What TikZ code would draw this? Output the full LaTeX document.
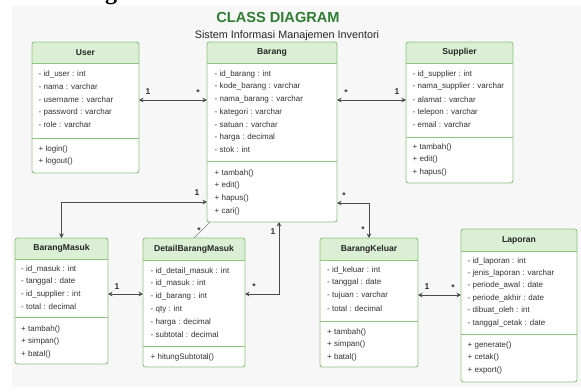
\documentclass[tikz,border=0pt]{standalone}
\usepackage{fontspec}
\setmainfont{Liberation Sans}
\newfontfamily\serifhead{Liberation Serif}
\usetikzlibrary{arrows.meta,calc}

\definecolor{frame}{HTML}{8CC47E}
\definecolor{hdrfill}{HTML}{DAEFD4}
\definecolor{titlegreen}{HTML}{2E7D32}
\definecolor{ink}{HTML}{333333}
\definecolor{wire}{HTML}{4A4A4A}
\definecolor{paper}{HTML}{F7F7F7}

\tikzset{
  classframe/.style={draw=frame, line width=0.9pt, rounded corners=2.5pt,
    inner sep=0pt, outer sep=0pt, anchor=north west},
  hdrtext/.style={font=\bfseries\fontsize{8.6}{10}\selectfont, text=black!85, inner sep=0pt},
  member/.style={font=\fontsize{8}{9.6}\selectfont, text=ink, anchor=west, inner sep=0pt},
  divider/.style={draw=frame, line width=0.8pt},
  tip/.tip={Stealth[length=4.5pt,width=4.5pt]},
  assoc/.style={draw=wire, line width=0.8pt, tip-tip},
  plainlink/.style={draw=wire!70, line width=0.6pt},
  mult/.style={font=\bfseries\fontsize{8.5}{10}\selectfont, text=black!80, inner sep=0pt},
}

% #1 name, #2 x1, #3 y1, #4 x2, #5 y2, #6 title, #7 header bottom, #8 divider
\newcommand\umlclass[8]{%
  \fill[white, rounded corners=2.5pt] (#2,#3) rectangle (#4,#5);
  \fill[hdrfill, rounded corners=2.5pt] (#2,#3) rectangle (#4,#7);
  \fill[hdrfill] (#2,{#7-4}) rectangle (#4,#7);
  \node[classframe, minimum width={#4-#2}, minimum height={#5-#3}] (#1) at (#2,#3) {};
  \node[hdrtext] (#1-title) at ({(#2+#4)/2},{(#3+#7)/2}) {#6};
  \draw[divider] (#1.west |- 0,#7) -- (#1.east |- 0,#7);
  \draw[divider] (#1.west |- 0,#8) -- (#1.east |- 0,#8);
}
% #1 name prefix, #2 x, #3 first line y, #4 line step, #5 lines
\newcommand\members[5]{%
  \foreach \t [count=\i from 0] in {#5}
    \node[member] (#1\i) at ({#2},{#3+\i*#4}) {\t};
}

\begin{document}
\begin{tikzpicture}[x=1pt,y=-1pt]
\useasboundingbox (0,0) rectangle (581,391);
\fill[paper] (12,6) rectangle (581,387);

% cut-off heading above the frame
\node[font=\serifhead\bfseries\fontsize{24}{24}\selectfont, anchor=base, inner sep=0pt] (cut) at (111,-1) {g};

% headings
\node[font=\bfseries\fontsize{14.6}{16}\selectfont, text=titlegreen, inner sep=0pt] (title) at (278,17) {CLASS DIAGRAM};
\node[font=\fontsize{10.8}{12}\selectfont, text=black!85, inner sep=0pt] (subtitle) at (287,36) {Sistem Informasi Manajemen Inventori};

% classes
\umlclass{user}{32}{42}{139}{173}{User}{63}{138}
\members{ua}{38.5}{74}{12.75}{- id\_user : int, - nama : varchar, - username : varchar, - password : varchar, - role : varchar}
\members{um}{38.5}{149}{12.75}{+ login(), + logout()}

\umlclass{barang}{207}{42}{337}{222}{Barang}{63}{161}
\members{ba}{214.5}{74}{12.67}{- id\_barang : int, - kode\_barang : varchar, - nama\_barang : varchar, - kategori : varchar, - satuan : varchar, - harga : decimal, - stok : int}
\members{bm}{214.5}{173}{12.67}{+ tambah(), + edit(), + hapus(), + cari()}

\umlclass{supplier}{406}{42}{513}{183}{Supplier}{63}{137}
\members{sa}{412.5}{74}{12.75}{- id\_supplier : int, - nama\_supplier : varchar, - alamat : varchar, - telepon : varchar, - email : varchar}
\members{sm}{412.5}{147}{12.75}{+ tambah(), + edit(), + hapus()}

\umlclass{masuk}{15}{238}{108}{364}{BarangMasuk}{259}{317}
\members{ma}{21}{269}{12.7}{- id\_masuk : int, - tanggal : date, - id\_supplier : int, - total : decimal}
\members{mm}{21}{329}{12.7}{+ tambah(), + simpan(), + batal()}

\umlclass{detail}{143}{238}{245}{367}{DetailBarangMasuk}{260}{346}
\members{da}{150.5}{271}{12.8}{- id\_detail\_masuk : int, - id\_masuk : int, - id\_barang : int, - qty : int, - harga : decimal, - subtotal : decimal}
\members{dm}{150.5}{357}{12.8}{+ hitungSubtotal()}

\umlclass{keluar}{320}{238}{418}{367}{BarangKeluar}{260}{321}
\members{ka}{327}{270}{12.8}{- id\_keluar : int, - tanggal : date, - tujuan : varchar, - total : decimal}
\members{km}{327}{332}{12.6}{+ tambah(), + simpan(), + batal()}

\umlclass{laporan}{461}{229}{577}{382}{Laporan}{251}{334}
\members{la}{467.5}{261}{12.4}{- id\_laporan : int, - jenis\_laporan : varchar, - periode\_awal : date, - periode\_akhir : date, - dibuat\_oleh : int, - tanggal\_cetak : date}
\members{lm}{467.5}{345}{12.5}{+ generate(), + cetak(), + export()}

% associations
\draw[assoc] (barang.west |- 0,100) -- (user.east |- 0,100);
\node[mult] (m1a) at (148,92) {1};
\node[mult] (m1b) at (198,93) {*};

\draw[assoc] (barang.east |- 0,100) -- (supplier.west |- 0,100);
\node[mult] (m2a) at (346,93) {*};
\node[mult] (m2b) at (397,92) {1};

\draw[assoc] (barang.west |- 0,202) -| (masuk.north);
\node[mult] (m3a) at (197,193) {1};

\draw[plainlink] ($(barang.south west)+(3,0)$) -- (detail.north);
\node[mult] (m4a) at (199,231) {*};

\coordinate (bfoot) at (barang.south -| 279,0);
\draw[assoc] (detail.east |- 0,294) -| (bfoot);
\node[mult] (m5a) at (273,232) {1};
\node[mult] (m5b) at (254,287) {*};

\draw[assoc] (masuk.east |- 0,294) -- (detail.west |- 0,294);
\node[mult] (m6a) at (117,287) {1};

\draw[assoc] (barang.east |- 0,203) -| (keluar.north);
\node[mult] (m7a) at (344,196) {*};
\node[mult] (m7b) at (363,230) {*};

\draw[assoc] (keluar.east |- 0,295) -- (laporan.west |- 0,295);
\node[mult] (m8a) at (427,287) {1};
\node[mult] (m8b) at (453,288) {*};
\end{tikzpicture}
\end{document}
